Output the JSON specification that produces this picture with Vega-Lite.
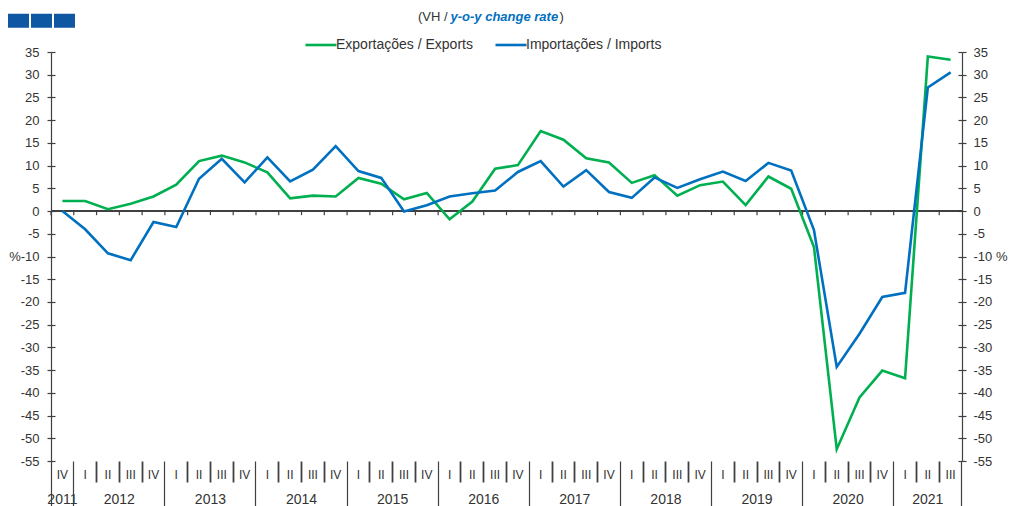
{
  "$schema": "https://vega.github.io/schema/vega-lite/v6.json",
  "width": 911,
  "height": 409,
  "padding": {"left": 0, "top": 10, "right": 5, "bottom": 0},
  "background": "white",
  "config": {
    "font": "Liberation Sans",
    "view": {"stroke": null},
    "axis": {"grid": false, "labelFont": "Liberation Sans", "labelColor": "#333333", "domainColor": "#404040", "tickColor": "#404040"},
    "legend": {"labelFont": "Liberation Sans"}
  },
  "title": {
    "text": "(VH / \u00a0\u00a0\u00a0\u00a0\u00a0\u00a0\u00a0\u00a0\u00a0\u00a0\u00a0\u00a0\u00a0\u00a0\u00a0\u00a0\u00a0\u00a0\u00a0\u00a0\u00a0\u00a0\u00a0\u00a0\u00a0\u00a0\u00a0\u00a0\u00a0\u00a0)",
    "subtitle": "\u200b\u00a0\u00a0\u00a0\u00a0\u00a0\u00a0\u00a0\u00a0\u00a0y-o-y change rate",
    "anchor": "start",
    "frame": "group",
    "dx": 367,
    "font": "Liberation Sans",
    "fontSize": 13,
    "fontWeight": "normal",
    "color": "#333333",
    "subtitleFont": "Liberation Sans",
    "subtitleFontSize": 13,
    "subtitleFontStyle": "italic",
    "subtitleFontWeight": "bold",
    "subtitleColor": "#0070C0",
    "subtitlePadding": -13,
    "offset": -14
  },
  "datasets": {
    "rows": [
      {"t": "2011-IV", "s": "Exportações / Exports", "v": 2.2},
      {"t": "2012-I", "s": "Exportações / Exports", "v": 2.2},
      {"t": "2012-II", "s": "Exportações / Exports", "v": 0.4},
      {"t": "2012-III", "s": "Exportações / Exports", "v": 1.6},
      {"t": "2012-IV", "s": "Exportações / Exports", "v": 3.2},
      {"t": "2013-I", "s": "Exportações / Exports", "v": 5.8},
      {"t": "2013-II", "s": "Exportações / Exports", "v": 11.0},
      {"t": "2013-III", "s": "Exportações / Exports", "v": 12.2},
      {"t": "2013-IV", "s": "Exportações / Exports", "v": 10.7},
      {"t": "2014-I", "s": "Exportações / Exports", "v": 8.5},
      {"t": "2014-II", "s": "Exportações / Exports", "v": 2.8},
      {"t": "2014-III", "s": "Exportações / Exports", "v": 3.4},
      {"t": "2014-IV", "s": "Exportações / Exports", "v": 3.2},
      {"t": "2015-I", "s": "Exportações / Exports", "v": 7.3},
      {"t": "2015-II", "s": "Exportações / Exports", "v": 6.0},
      {"t": "2015-III", "s": "Exportações / Exports", "v": 2.6},
      {"t": "2015-IV", "s": "Exportações / Exports", "v": 4.0},
      {"t": "2016-I", "s": "Exportações / Exports", "v": -1.8},
      {"t": "2016-II", "s": "Exportações / Exports", "v": 2.1},
      {"t": "2016-III", "s": "Exportações / Exports", "v": 9.3},
      {"t": "2016-IV", "s": "Exportações / Exports", "v": 10.1},
      {"t": "2017-I", "s": "Exportações / Exports", "v": 17.6},
      {"t": "2017-II", "s": "Exportações / Exports", "v": 15.7},
      {"t": "2017-III", "s": "Exportações / Exports", "v": 11.6},
      {"t": "2017-IV", "s": "Exportações / Exports", "v": 10.7},
      {"t": "2018-I", "s": "Exportações / Exports", "v": 6.2},
      {"t": "2018-II", "s": "Exportações / Exports", "v": 7.9},
      {"t": "2018-III", "s": "Exportações / Exports", "v": 3.4},
      {"t": "2018-IV", "s": "Exportações / Exports", "v": 5.7},
      {"t": "2019-I", "s": "Exportações / Exports", "v": 6.5},
      {"t": "2019-II", "s": "Exportações / Exports", "v": 1.3},
      {"t": "2019-III", "s": "Exportações / Exports", "v": 7.6},
      {"t": "2019-IV", "s": "Exportações / Exports", "v": 4.9},
      {"t": "2020-I", "s": "Exportações / Exports", "v": -7.9},
      {"t": "2020-II", "s": "Exportações / Exports", "v": -52.4},
      {"t": "2020-III", "s": "Exportações / Exports", "v": -41.0},
      {"t": "2020-IV", "s": "Exportações / Exports", "v": -35.1},
      {"t": "2021-I", "s": "Exportações / Exports", "v": -36.8},
      {"t": "2021-II", "s": "Exportações / Exports", "v": 34.0},
      {"t": "2021-III", "s": "Exportações / Exports", "v": 33.3},
      {"t": "2011-IV", "s": "Importações / Imports", "v": 0.0},
      {"t": "2012-I", "s": "Importações / Imports", "v": -4.0},
      {"t": "2012-II", "s": "Importações / Imports", "v": -9.3},
      {"t": "2012-III", "s": "Importações / Imports", "v": -10.8},
      {"t": "2012-IV", "s": "Importações / Imports", "v": -2.4},
      {"t": "2013-I", "s": "Importações / Imports", "v": -3.5},
      {"t": "2013-II", "s": "Importações / Imports", "v": 7.1},
      {"t": "2013-III", "s": "Importações / Imports", "v": 11.5},
      {"t": "2013-IV", "s": "Importações / Imports", "v": 6.3},
      {"t": "2014-I", "s": "Importações / Imports", "v": 11.8},
      {"t": "2014-II", "s": "Importações / Imports", "v": 6.5},
      {"t": "2014-III", "s": "Importações / Imports", "v": 9.1},
      {"t": "2014-IV", "s": "Importações / Imports", "v": 14.3},
      {"t": "2015-I", "s": "Importações / Imports", "v": 8.8},
      {"t": "2015-II", "s": "Importações / Imports", "v": 7.3},
      {"t": "2015-III", "s": "Importações / Imports", "v": -0.1},
      {"t": "2015-IV", "s": "Importações / Imports", "v": 1.3},
      {"t": "2016-I", "s": "Importações / Imports", "v": 3.2},
      {"t": "2016-II", "s": "Importações / Imports", "v": 3.9},
      {"t": "2016-III", "s": "Importações / Imports", "v": 4.5},
      {"t": "2016-IV", "s": "Importações / Imports", "v": 8.6},
      {"t": "2017-I", "s": "Importações / Imports", "v": 11.0},
      {"t": "2017-II", "s": "Importações / Imports", "v": 5.4},
      {"t": "2017-III", "s": "Importações / Imports", "v": 9.0},
      {"t": "2017-IV", "s": "Importações / Imports", "v": 4.2},
      {"t": "2018-I", "s": "Importações / Imports", "v": 2.9},
      {"t": "2018-II", "s": "Importações / Imports", "v": 7.4},
      {"t": "2018-III", "s": "Importações / Imports", "v": 5.1},
      {"t": "2018-IV", "s": "Importações / Imports", "v": 7.0},
      {"t": "2019-I", "s": "Importações / Imports", "v": 8.7},
      {"t": "2019-II", "s": "Importações / Imports", "v": 6.6},
      {"t": "2019-III", "s": "Importações / Imports", "v": 10.6},
      {"t": "2019-IV", "s": "Importações / Imports", "v": 8.9},
      {"t": "2020-I", "s": "Importações / Imports", "v": -4.2},
      {"t": "2020-II", "s": "Importações / Imports", "v": -34.3},
      {"t": "2020-III", "s": "Importações / Imports", "v": -27.0},
      {"t": "2020-IV", "s": "Importações / Imports", "v": -18.9},
      {"t": "2021-I", "s": "Importações / Imports", "v": -18.0},
      {"t": "2021-II", "s": "Importações / Imports", "v": 27.2},
      {"t": "2021-III", "s": "Importações / Imports", "v": 30.5}
    ]
  },
  "data": {"name": "rows"},
  "resolve": {"axis": {"x": "independent", "y": "independent"}},
  "layer": [
    {
      "mark": {"type": "rule", "color": "#404040", "strokeWidth": 1.2},
      "encoding": {
        "y": {
          "datum": 0, "type": "quantitative",
          "scale": {"domain": [-55, 35], "nice": false, "zero": false},
          "axis": {
            "orient": "right", "title": null,
            "values": [-55, -50, -45, -40, -35, -30, -25, -20, -15, -10, -5, 0, 5, 10, 15, 20, 25, 30, 35],
            "domain": true, "domainWidth": 1.2, "domainColor": "#404040",
            "ticks": true, "tickSize": 4, "tickWidth": 1.2, "tickColor": "#404040",
            "labelExpr": "datum.value == -10 ? '-10 %' : '' + datum.value",
            "labelFontSize": 13, "labelPadding": 7, "labelColor": "#333333"
          }
        }
      }
    },
    {
      "transform": [{"filter": "datum.s == 'Exportações / Exports'"}],
      "mark": {"type": "rule", "color": "#404040", "strokeWidth": 1.2},
      "encoding": {
        "x": {
          "field": "t", "type": "ordinal", "sort": null, "bandPosition": 0,
          "scale": {"type": "band", "paddingInner": 0, "paddingOuter": 0},
          "axis": {
            "orient": "bottom", "title": null, "domain": false, "ticks": false,
            "bandPosition": 0.5,
            "labelExpr": "split(datum.value, '-')[1]",
            "labelAngle": 0, "labelFontSize": 12, "labelPadding": 8,
            "labelColor": "#333333", "labelOverlap": false, "labelFlush": false, "labelBound": false
          }
        },
        "y": {
          "datum": 0, "type": "quantitative",
          "scale": {"domain": [-55, 35], "nice": false, "zero": false},
          "axis": {
            "orient": "left", "title": null,
            "values": [-55, -50, -45, -40, -35, -30, -25, -20, -15, -10, -5, 0, 5, 10, 15, 20, 25, 30, 35],
            "domain": false, "labels": false,
            "ticks": true, "tickSize": -4, "tickWidth": 1.2, "tickColor": "#404040",
            "minExtent": 0, "maxExtent": 0
          }
        },
        "y2": {"datum": -0.9}
      }
    },
    {
      "transform": [{"filter": "datum.s == 'Exportações / Exports'"}],
      "mark": {"type": "point", "opacity": 0},
      "encoding": {
        "x": {
          "field": "t", "type": "ordinal", "sort": null,
          "scale": {"type": "band", "paddingInner": 0, "paddingOuter": 0},
          "axis": {
            "orient": "bottom", "title": null, "domain": false, "ticks": false,
            "values": ["2011-IV", "2012-III", "2013-III", "2014-III", "2015-III", "2016-III", "2017-III", "2018-III", "2019-III", "2020-III", "2021-II"],
            "bandPosition": 0.5,
            "labelOffset": {"condition": {"test": "datum.value == '2011-IV' || datum.value == '2021-II'", "value": 0}, "value": -11.39},
            "labelExpr": "slice(datum.value, 0, 4)",
            "labelAngle": 0, "labelFontSize": 14, "labelPadding": 31,
            "labelColor": "#333333", "labelOverlap": false, "labelFlush": false, "labelBound": false
          }
        },
        "y": {
          "field": "v", "type": "quantitative",
          "scale": {"domain": [-55, 35], "nice": false, "zero": false},
          "axis": {
            "orient": "right", "title": null,
            "values": [-55, -50, -45, -40, -35, -30, -25, -20, -15, -10, -5, 0, 5, 10, 15, 20, 25, 30, 35],
            "domain": false, "labels": false,
            "ticks": true, "tickSize": -4, "tickWidth": 1.2, "tickColor": "#404040",
            "minExtent": 0, "maxExtent": 0
          }
        }
      }
    },
    {
      "transform": [{"filter": "datum.s == 'Exportações / Exports'"}],
      "mark": {"type": "point", "opacity": 0},
      "encoding": {
        "x": {
          "field": "t", "type": "ordinal", "sort": null,
          "scale": {"type": "band", "paddingInner": 0, "paddingOuter": 0},
          "axis": {
            "orient": "bottom", "title": null, "domain": false, "labels": false,
            "values": ["2021-III"], "bandPosition": 1,
            "ticks": true, "tickSize": 48, "tickWidth": 1.2, "tickColor": "#404040"
          }
        },
        "y": {
          "field": "v", "type": "quantitative",
          "scale": {"domain": [-55, 35], "nice": false, "zero": false},
          "axis": null
        }
      }
    },
    {
      "transform": [
        {"filter": "datum.s == 'Exportações / Exports'"},
        {"filter": "datum.t == '2012-I' || datum.t == '2012-II' || datum.t == '2012-III'"}
      ],
      "mark": {"type": "point", "opacity": 0, "filled": true, "color": "#0F56A3"},
      "encoding": {
        "x": {
          "field": "t", "type": "ordinal", "sort": null,
          "scale": {"type": "band", "paddingInner": 0, "paddingOuter": 0},
          "axis": null
        },
        "y": {
          "field": "v", "type": "quantitative",
          "scale": {"domain": [-55, 35], "nice": false, "zero": false},
          "axis": null
        },
        "shape": {
          "field": "t", "type": "nominal", "sort": null,
          "scale": {"range": ["M-1,-0.667H1V0.667H-1Z", "M-1,-0.667H1V0.667H-1Z", "M-1,-0.667H1V0.667H-1Z"]},
          "legend": {
            "orient": "none", "legendX": -43, "legendY": -42,
            "direction": "horizontal", "title": null,
            "symbolSize": 441, "symbolFillColor": "#0F56A3", "symbolStrokeWidth": 0, "symbolOpacity": 1,
            "labelExpr": "''", "labelOffset": 0, "columnPadding": 2, "padding": 0
          }
        }
      }
    },
    {
      "mark": {"type": "line", "strokeWidth": 2.6},
      "encoding": {
        "x": {
          "field": "t", "type": "ordinal", "sort": null,
          "scale": {"type": "band", "paddingInner": 0, "paddingOuter": 0},
          "axis": {
            "orient": "bottom", "title": null, "domain": false, "labels": false,
            "bandPosition": 0,
            "ticks": true,
            "tickSize": {"condition": {"test": "slice(datum.value, 5) == 'I' || datum.value == '2011-IV'", "value": 48}, "value": 21},
            "tickWidth": {"condition": {"test": "slice(datum.value, 5) == 'I' || datum.value == '2011-IV'", "value": 1.2}, "value": 1.8},
            "tickColor": "#404040"
          }
        },
        "y": {
          "field": "v", "type": "quantitative",
          "scale": {"domain": [-55, 35], "nice": false, "zero": false},
          "axis": {
            "orient": "left", "title": null,
            "values": [-55, -50, -45, -40, -35, -30, -25, -20, -15, -10, -5, 0, 5, 10, 15, 20, 25, 30, 35],
            "domain": true, "domainWidth": 1.2, "domainColor": "#404040",
            "ticks": true, "tickSize": 4, "tickWidth": 1.2, "tickColor": "#404040",
            "labelExpr": "datum.value == -10 ? '%-10' : '' + datum.value",
            "labelFontSize": 13, "labelPadding": 8, "labelColor": "#333333",
            "minExtent": 51, "maxExtent": 51
          }
        },
        "color": {
          "field": "s", "type": "nominal", "sort": null,
          "scale": {"domain": ["Exportações / Exports", "Importações / Imports"], "range": ["#00B050", "#0070C0"]},
          "legend": {
            "orient": "none", "legendX": 253, "legendY": -24,
            "direction": "horizontal", "title": null,
            "symbolType": "stroke", "symbolSize": 961, "symbolStrokeWidth": 2.6,
            "labelFontSize": 14, "labelColor": "#333333", "labelOffset": -2,
            "columnPadding": 17, "padding": 0
          }
        }
      }
    }
  ]
}
